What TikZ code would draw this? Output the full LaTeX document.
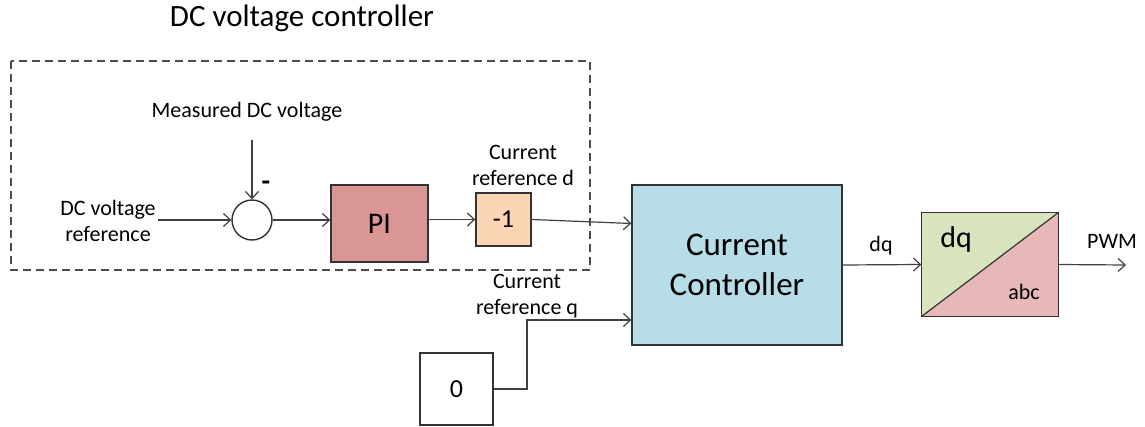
\documentclass[tikz,border=0pt]{standalone}
\usepackage{fontspec}
\setmainfont{Carlito}
\usetikzlibrary{arrows.meta}
\definecolor{pired}{RGB}{217,150,148}
\definecolor{peach}{RGB}{252,213,181}
\definecolor{ccblue}{RGB}{183,221,232}
\definecolor{dqgreen}{RGB}{215,228,189}
\definecolor{abcpink}{RGB}{230,185,184}

\begin{document}
\begin{tikzpicture}[x=0.5pt,y=-0.5pt,
	line/.style={draw=black!75,line width=0.6pt},
	sig/.style={line,-{Straight Barb[length=3.5pt,width=6.5pt]}},
	block/.style={draw=black!80,line width=0.7pt,inner sep=0pt},
	lbl/.style={align=center,font=\fontsize{11}{13}\selectfont,inner sep=0pt}]
			\useasboundingbox (0,0) rectangle (1145,427);
			\coordinate (sum) at (252,220);
			\coordinate (pi) at (379.5,223.5);
			\coordinate (neg) at (503.5,219.5);
			\coordinate (cc) at (737,265);
			\coordinate (zero) at (456.5,389);
			\coordinate (conv) at (990,264.5);
			
			% dashed frame of the dc voltage controller
			\draw[black!70,line width=0.6pt,dash pattern=on 4pt off 2.5pt] (11,61) rectangle (590,270);
			\node[font=\fontsize{15.5}{18}\selectfont] (title) at (302,18) {DC voltage controller};
			
			\node[block,circle,fill=white,minimum size=20pt] (SumNode) at (sum) {};
			\node[block,fill=pired,minimum width=48.5pt,minimum height=38.5pt,font=\fontsize{15}{18}\selectfont] (PINode) at (pi) {PI};
			\node[block,fill=peach,minimum width=27.5pt,minimum height=26.5pt,font=\fontsize{13}{15}\selectfont] (NegNode) at (neg) {-1};
			\node[block,fill=ccblue,minimum width=105pt,minimum height=80pt,align=center,font=\fontsize{16.5}{20}\selectfont] (CCNode) at (cc) {Current\\Controller};
			\node[block,fill=white,minimum width=36.5pt,minimum height=36pt,font=\fontsize{13}{15}\selectfont] (ZeroNode) at (zero) {0};
			\node[block,minimum width=68pt,minimum height=51.5pt] (ConvNode) at (conv) {};
			
			\fill[dqgreen] (ConvNode.south west) -- (ConvNode.north west) -- (ConvNode.north east) -- cycle;
			\fill[abcpink] (ConvNode.south west) -- (ConvNode.south east) -- (ConvNode.north east) -- cycle;
			\draw[black!80,line width=0.7pt] (ConvNode.south west) rectangle (ConvNode.north east);
			\draw[black!80,line width=0.6pt] (ConvNode.south west) -- (ConvNode.north east);
			\node[font=\fontsize{15}{18}\selectfont] (dqtext) at ([shift={(-34,-24.5)}]conv) {dq};
			\node[lbl] (abctext) at ([shift={(34,27.5)}]conv) {abc};
			
			\node[lbl] (meas) at (247,112) {Measured DC voltage};
			\node[lbl] (vref) at (108,221) {DC voltage\\reference};
			\node[font=\fontsize{14}{16}\bfseries] (minus) at (266,186) {-};
			\node[lbl] (idref) at (523,165) {Current\\reference d};
			\node[lbl] (iqref) at (527,296) {Current\\reference q};
			\node[lbl] (dqlbl) at (881,246) {dq};
			\node[lbl] (pwm) at (1112,241) {PWM};
			\coordinate (measin) at (252,140);
			\coordinate (vrefin) at (158,220);
			\coordinate (pwmout) at (1126,265);
			
			\draw[sig] (measin) -- (SumNode.north);
			\draw[sig] (vrefin) -- (SumNode.west);
			\draw[sig] (SumNode.east) -- (SumNode.east -| PINode.west);
			\draw[sig] (PINode.east |- NegNode) -- (NegNode.west);
			\draw[sig] (NegNode.east) -- ([yshift=-2]NegNode.east -| CCNode.west);
			\draw[sig] (ZeroNode.east) -- (527,389) -- (527,320) -- (CCNode.west |- 0,320);
			\draw[sig] (CCNode.east) -- (ConvNode.west);
			\draw[sig] (ConvNode.east) -- (pwmout);
\end{tikzpicture}
\end{document}
